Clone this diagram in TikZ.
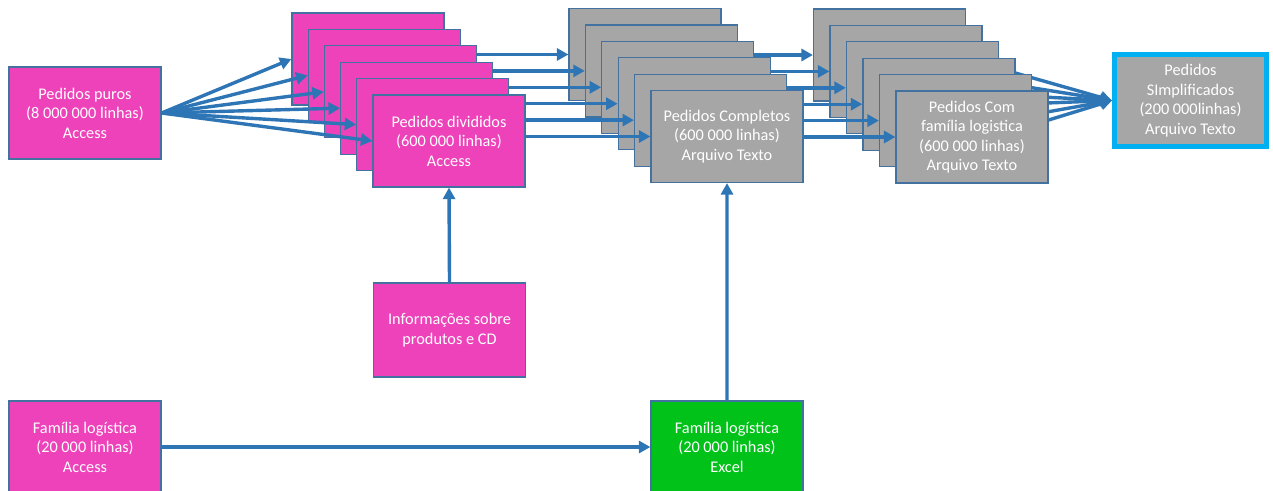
\documentclass[tikz,border=0pt]{standalone}
\usepackage{fontspec}
\setmainfont{Carlito}
\usetikzlibrary{arrows.meta}

\definecolor{boxpink}{RGB}{238,66,186}
\definecolor{boxgrey}{RGB}{166,166,166}
\definecolor{boxgreen}{RGB}{0,194,24}
\definecolor{edgeblue}{RGB}{68,114,160}
\definecolor{flowblue}{RGB}{46,117,182}
\definecolor{framecyan}{RGB}{0,176,240}

\tikzset{
  databox/.style={rectangle, draw=edgeblue, line width=1.2pt, inner sep=0pt,
    minimum width=152pt, minimum height=92pt, text=white, align=center,
    font=\fontsize{16.3}{19.5}\selectfont},
  pinkbox/.style={databox, fill=boxpink},
  greybox/.style={databox, fill=boxgrey},
  greenbox/.style={databox, fill=boxgreen},
  flow/.style={draw=flowblue, line width=3.4pt,
    -{Triangle[length=11.5pt,width=12pt]}},
}

\begin{document}
\begin{tikzpicture}[x=1pt,y=-1pt]
  \useasboundingbox (0,0) rectangle (1273,490);
  \clip (0,0) rectangle (1273,490);

  % sources and result
  \node[pinkbox] (puros) at (85,113)
    {Pedidos puros\\(8 000 000 linhas)\\Access};
  \node[pinkbox, minimum height=94pt] (info) at (449.5,330)
    {Informações sobre\\produtos e CD};
  \node[pinkbox] (familia) at (85,447)
    {Família logística\\(20 000 linhas)\\Access};
  \node[greenbox] (excel) at (727,447)
    {Família logística\\(20 000 linhas)\\Excel};
  \node[greybox, draw=framecyan, line width=5pt, minimum width=152pt,
        minimum height=92pt] (final) at (1190.5,100.5)
    {Pedidos\\SImplificados\\(200 000linhas)\\Arquivo Texto};

  % the three stacks of six partial files, drawn back to front
  \foreach \k/\d in {1/4,2/8.5,3/7,4/0,5/-6,6/-17} {
    \pgfmathsetmacro{\px}{368+16.2*(\k-1)}
    \pgfmathsetmacro{\py}{59+16.4*(\k-1)}
    \pgfmathsetmacro{\gx}{645+16.4*(\k-1)}
    \pgfmathsetmacro{\gy}{54.5+16.4*(\k-1)}
    \pgfmathsetmacro{\tx}{889.5+16.5*(\k-1)}
    \pgfmathsetmacro{\ty}{55+16.4*(\k-1)}
    \ifnum\k=6
      \node[pinkbox] (pink\k) at (\px,\py)
        {Pedidos divididos\\(600 000 linhas)\\Access};
      \node[greybox] (grey\k) at (\gx,\gy)
        {Pedidos Completos\\(600 000 linhas)\\Arquivo Texto};
      \node[greybox] (third\k) at (\tx,\ty)
        {Pedidos Com\\família logistica\\(600 000 linhas)\\Arquivo Texto};
    \else
      \node[pinkbox] (pink\k) at (\px,\py) {};
      \node[greybox] (grey\k) at (\gx,\gy) {};
      \node[greybox] (third\k) at (\tx,\ty) {};
    \fi
    \draw[flow] (puros.east) -- (pink\k.west);
    \draw[flow] (pink\k.east |- grey\k.west) -- (grey\k.west);
    \draw[flow] (grey\k.east |- third\k.west) -- (third\k.west);
    \draw[flow] ([yshift=-\d pt]third\k.east) -- (final.west);
  }

  % lookups joined into the stacks
  \draw[flow] (info.north) -- (pink6.south);
  \draw[flow] (excel.north) -- (grey6.south);
  \draw[flow] (familia.east) -- (excel.west);
\end{tikzpicture}
\end{document}
